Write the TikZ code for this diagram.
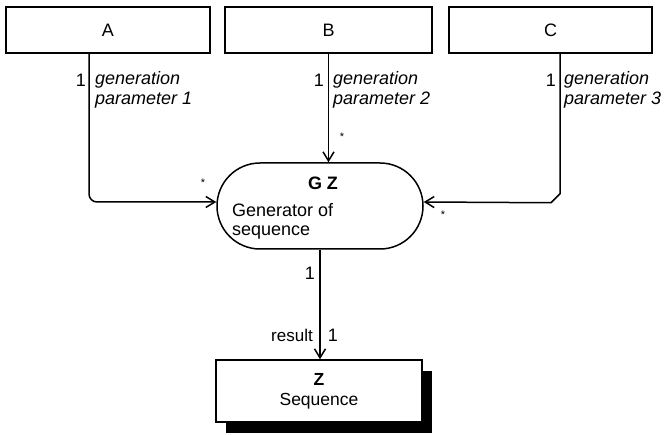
\documentclass[tikz,border=0pt]{standalone}
\usepackage{fontspec}
\setmainfont{Liberation Sans}
\usetikzlibrary{arrows.meta}
\begin{document}
\begin{tikzpicture}[x=1pt,y=-1pt,
  entity/.style={draw, line width=1.5pt, minimum height=46pt, inner sep=0pt, font=\fontsize{18}{20}\selectfont},
  lab/.style={font=\fontsize{18}{20}\selectfont, inner sep=0pt},
  rolelab/.style={font=\fontsize{18}{20}\selectfont\itshape, inner sep=0pt, align=left, anchor=west},
  starlab/.style={font=\fontsize{11}{11}\selectfont, inner sep=0pt},
  conn/.style={line width=1.5pt, -{Straight Barb[length=9pt,width=11pt,line width=1.5pt]}}
]
\useasboundingbox (0,0) rectangle (664,435);
% top entity boxes
\node[entity, minimum width=204pt] (a) at (108,30) {A};
\node[entity, minimum width=207pt] (b) at (328.5,30) {B};
\node[entity, minimum width=203pt] (c) at (550.5,30) {C};
% generator (stadium)
\node[draw, line width=1.5pt, rounded corners=43pt, minimum width=206pt, minimum height=86pt, inner sep=0pt] (gz) at (320,206) {};
\node[lab, font=\fontsize{18}{20}\selectfont\bfseries] (gzname) at (323,183) {G Z};
\node[lab, anchor=west] (gzd1) at (232,210) {Generator of};
\node[lab, anchor=west] (gzd2) at (232,233) {sequence};
% result box with shadow
\fill (226,371) rectangle (432,433);
\node[draw, fill=white, line width=1.5pt, minimum width=206pt, minimum height=62pt, inner sep=0pt, align=center, font=\fontsize{17.5}{20}\selectfont] (z) at (319,391) {\textbf{Z}\\Sequence};
% connectors
\draw[conn, rounded corners=8pt] ([xshift=-19pt]a.south) |- ([yshift=4pt]gz.west);
\draw[conn] (b.south) -- (b.south |- gz.north);
\draw[conn] ([xshift=9.5pt]c.south) -- ++(0,140) -- ++(-9,9) -- ([yshift=4pt]gz.east);
\draw[conn] (gz.south) -- (gz.south |- z.north);
% role labels
\node[lab, anchor=east] (m1) at (86,80) {1};
\node[rolelab] (r1) at (95,90) {generation\\parameter 1};
\node[lab, anchor=east] (m2) at (324,80) {1};
\node[rolelab] (r2) at (333,90) {generation\\parameter 2};
\node[lab, anchor=east] (m3) at (556,80) {1};
\node[rolelab] (r3) at (564,90) {generation\\parameter 3};
\node[lab, anchor=east] (m4) at (315,273) {1};
\node[lab, anchor=east, font=\fontsize{17}{20}\selectfont] (res) at (313,335) {result};
\node[lab] (m5) at (333,335) {1};
% stars
\node[starlab] (s1) at (203,183) {*};
\node[starlab] (s2) at (342,137) {*};
\node[starlab] (s3) at (443,215) {*};
\end{tikzpicture}
\end{document}
